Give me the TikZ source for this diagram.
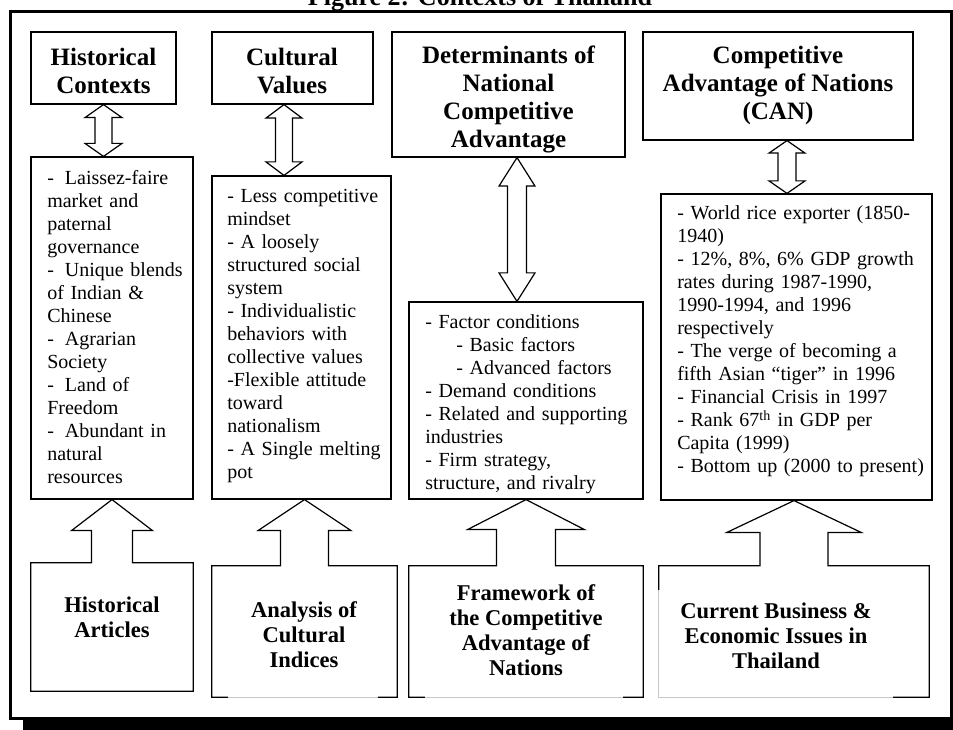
\documentclass[tikz,border=0pt]{standalone}
\usepackage{fontspec}
\setmainfont{Liberation Serif}
\usetikzlibrary{calc,fit}

\tikzset{
  box/.style={draw, line width=0.9pt, inner sep=0pt},
  headtext/.style={font=\bfseries\fontsize{18.75pt}{21pt}\selectfont, align=center, inner sep=0pt},
  source/.style={font=\bfseries\fontsize{16.9pt}{18.75pt}\selectfont, align=center, inner sep=0pt},
  body/.style={font=\fontsize{15pt}{17.25pt}\selectfont, text width=200, align=left, anchor=base west, inner sep=0pt},
  figtitle/.style={font=\bfseries\fontsize{19.5pt}{22pt}\selectfont, anchor=base, inner sep=0pt},
  blockarrow/.style={draw, fill=white, line width=0.9pt, line join=miter},
  faded/.style={draw=black!22, line width=0.9pt, preaction={draw=white, line width=2.2pt}},
}

% double block arrow: top tip, bottom tip, head half width, shaft half width, head length
\newcommand{\dblarrow}[5]{%
  \draw[blockarrow] (#1) -- ++(#3,#5) -- ++(-#3+#4,0) -- ($(#2)+(#4,-#5)$) -- ++(#3-#4,0)
    -- (#2) -- ++(-#3,-#5) -- ++(#3-#4,0) -- ($(#1)+(-#4,#5)$) -- ++(-#3+#4,0) -- cycle;}

% source box with its arrow up to the list above
\newcommand{\uparrowbox}[5]{%
  \draw[blockarrow] ($(#1.north)+(-#4,0)$) -- ($(#1.north |- #2.south)+(-#4,#5)$) -- ++(-#3+#4,0)
    -- (#1.north |- #2.south) -- ++(#3,#5) -- ++(-#3+#4,0) -- ($(#1.north)+(#4,0)$)
    -- (#1.north east) -- (#1.south east) -- (#1.south west) -- (#1.north west) -- cycle;}

\begin{document}
\begin{tikzpicture}[x=0.75pt, y=-0.75pt]
\useasboundingbox (0,0) rectangle (953,730);

% Title
\node[figtitle] (title) at (480,6) {Figure 2: Contexts of Thailand};

% Frame
\fill (23,718) rectangle (953,730);
\draw[line width=2.25pt] (10.5,11.5) rectangle (951.5,718.5);

% Contexts
\node[box, fit={(31,32) (176,104)}] (hc) {};
\node[box, fit={(212,32) (373,104)}] (cv) {};
\node[box, fit={(392,32) (625,157)}] (dn) {};
\node[box, fit={(643,32) (913,140)}] (ca) {};
\node[headtext] (hctitle) at (103.5,71) {Historical\\Contexts};
\node[headtext] (cvtitle) at (292,71) {Cultural\\Values};
\node[headtext] (dntitle) at (508.5,99) {Determinants of\\National\\Competitive\\Advantage};
\node[headtext] (catitle) at (778,85.5) {Competitive\\Advantage of Nations\\(CAN)};

% Lists
\node[box, fit={(31,157) (193,499)}] (hclist) {};
\node[box, fit={(212,176) (391,499)}] (cvlist) {};
\node[box, fit={(409,302) (643,499)}] (dnlist) {};
\node[box, fit={(661,194) (932,500)}] (calist) {};

\node[body] (hctext) at (47,185) {-\hspace{0.55em}Laissez-faire\\market and\\paternal\\governance\\
  -\hspace{0.55em}Unique blends\\of Indian \&\\Chinese\\-\hspace{0.55em}Agrarian\\Society\\
  -\hspace{0.55em}Land of\\Freedom\\-\hspace{0.55em}Abundant in\\natural\\resources};
\node[body] (cvtext) at (227,203) {- Less competitive\\mindset\\- A loosely\\structured social\\system\\
  - Individualistic\\behaviors with\\collective values\\-Flexible attitude\\toward\\nationalism\\
  - A Single melting\\pot};
\node[body] (dntext) at (425,329) {- Factor conditions\\\hspace*{1.55em}- Basic factors\\
  \hspace*{1.55em}- Advanced factors\\- Demand conditions\\- Related and supporting\\industries\\
  - Firm strategy,\\structure, and rivalry};
\node[body] (catext) at (677,220) {- World rice exporter (1850-\\1940)\\- 12\%, 8\%, 6\% GDP growth\\
  rates during 1987-1990,\\1990-1994, and 1996\\respectively\\- The verge of becoming a\\
  fifth Asian ``tiger'' in 1996\\- Financial Crisis in 1997\\- Rank 67\textsuperscript{th} in GDP per\\
  Capita (1999)\\- Bottom up (2000 to present)};

% Double arrows
\coordinate (axhc) at (103.5,0);
\coordinate (axcv) at (284,0);
\coordinate (axdn) at (517,0);
\coordinate (axca) at (787,0);
\dblarrow{axhc |- hc.south}{axhc |- hclist.north}{18.5}{8.5}{13}
\dblarrow{axcv |- cv.south}{axcv |- cvlist.north}{18}{8.5}{13.5}
\dblarrow{axdn |- dn.south}{axdn |- dnlist.north}{18}{9.5}{28.5}
\dblarrow{axca |- ca.south}{axca |- calist.north}{18}{9}{12.5}

% Sources
\node[inner sep=0pt, fit={(31,563) (193,691)}] (ha) {};
\node[inner sep=0pt, fit={(212,566) (397,697)}] (ac) {};
\node[inner sep=0pt, fit={(409,566) (643,697)}] (fw) {};
\node[inner sep=0pt, fit={(659,566) (929,697)}] (cb) {};
\uparrowbox{ha}{hclist}{40.5}{20.5}{31}
\uparrowbox{ac}{cvlist}{46.5}{24}{31}
\uparrowbox{fw}{dnlist}{58.5}{29.5}{30}
\uparrowbox{cb}{calist}{67.5}{34}{32}
\draw[faded] ($(ac.south west)+(16,0)$) -- ($(ac.south east)+(-19,0)$);
\draw[faded] ($(fw.south west)+(16,0)$) -- ($(fw.south east)+(-20,0)$);
\draw[faded] ($(cb.north west)+(0,24)$) -- (cb.south west) -- ($(cb.south east)+(-36,0)$);

\node[source] (hatext) at (112,617) {Historical\\Articles};
\node[source] (actext) at (304,635) {Analysis of\\Cultural\\Indices};
\node[source] (fwtext) at (526,630) {Framework of\\the Competitive\\Advantage of\\Nations};
\node[source] (cbtext) at (776,636) {Current Business \&\\Economic Issues in\\Thailand};

\end{tikzpicture}
\end{document}
